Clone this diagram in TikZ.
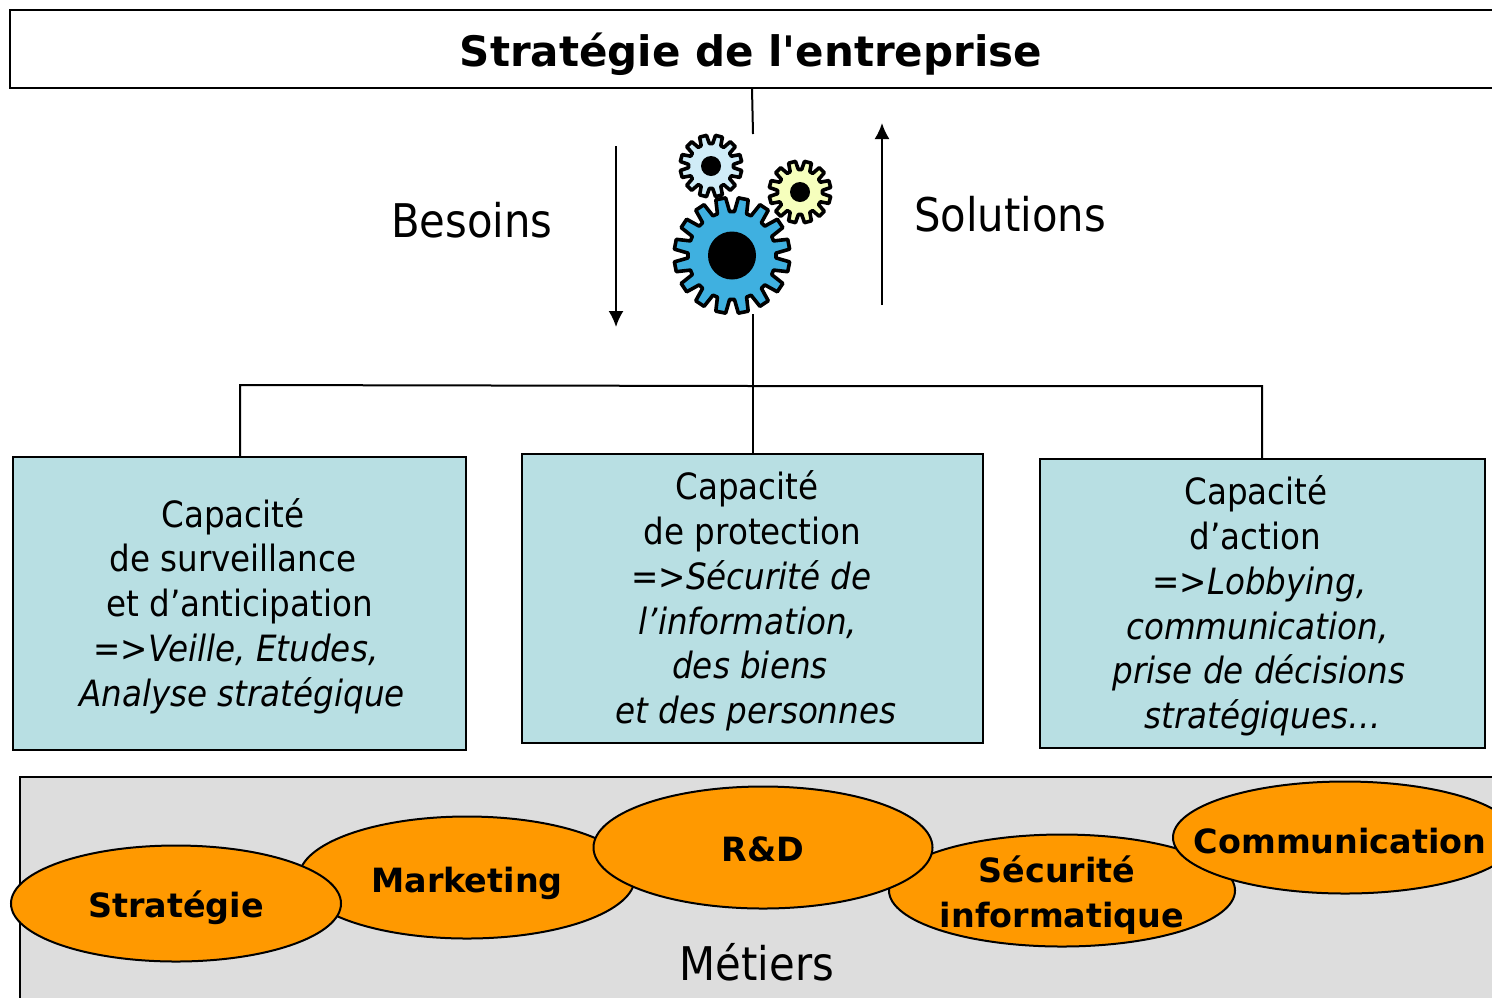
\documentclass[tikz,border=0pt]{standalone}
\usepackage{fontspec}
\setmainfont{DejaVu Sans Condensed}
\newfontfamily\boldfont{DejaVu Sans Bold}
\usetikzlibrary{arrows.meta,shapes.geometric}
\definecolor{boxblue}{HTML}{B8DFE3}
\definecolor{metiergray}{HTML}{DDDDDD}
\definecolor{metierorange}{HTML}{FF9900}
\definecolor{gearblue}{HTML}{3FB0E0}
\definecolor{gearsky}{HTML}{D0ECF7}
\definecolor{gearyellow}{HTML}{F6FFBD}
\tikzset{
    capbox/.style={draw=black, line width=1pt, fill=boxblue, anchor=north west, inner sep=0pt, align=center, font=\fontsize{18.1}{22.4}\selectfont},
    metier/.style={ellipse, draw=black, line width=1pt, fill=metierorange, inner sep=0pt},
    metierlabel/.style={align=center, font=\boldfont\fontsize{16.7}{22.4}\selectfont},
    biglabel/.style={font=\fontsize{23.2}{28}\selectfont},
    link/.style={line width=1pt},
    flow/.style={line width=1pt, -{Latex[length=8pt,width=7.5pt]}},
}
% moves one centred line sideways, in pixels of the picture
\newcommand{\lineshift}[1]{\hspace*{#1pt}}
\newcommand{\firstline}{\rule{0pt}{17pt}}
% center x, center y, teeth, outer radius, inner radius, hub radius, colour
\newcommand{\gearshape}[7]{
    \begin{scope}[shift={(#1,#2)}]
        \pgfmathsetmacro{\gearstep}{360/#3}
        \draw[line width=1.8pt, line join=round, fill=#7] (0:#5)
            \foreach \i in {1,...,#3} {
                -- ({(\i-1)*\gearstep+0.14*\gearstep}:#5) -- ({(\i-1)*\gearstep+0.28*\gearstep}:#4)
                -- ({(\i-1)*\gearstep+0.72*\gearstep}:#4) -- ({(\i-1)*\gearstep+0.86*\gearstep}:#5)
                -- ({\i*\gearstep}:#5)
            } -- cycle;
        \fill[black] (0,0) circle (#6);
    \end{scope}
}
\begin{document}
\begin{tikzpicture}[x=0.5pt, y=-0.5pt]
    \useasboundingbox (0,0) rectangle (1492,997);
    \clip (0,0) rectangle (1492,997);

    % top box
    \node[draw=black, line width=1pt, minimum width=1500*0.5pt, minimum height=78*0.5pt, anchor=north west, inner sep=0pt] (strategie) at (9,9) {};
    \node[font=\boldfont\fontsize{21}{26}\selectfont] (titre) at (751,54) {Stratégie de l'entreprise};

    % gears
    \gearshape{732}{255.5}{16}{58}{44}{24}{gearblue}
    \gearshape{711}{166}{12}{31}{22.5}{10}{gearsky}
    \gearshape{800}{192}{12}{31}{22.5}{10}{gearyellow}

    \coordinate (hautA) at (752,89);
    \coordinate (hautB) at (753,134);
    \coordinate (bas) at (753,314);
    \coordinate (noeud) at (753,386);
    \draw[link] (hautA) -- (hautB);

    % arrows
    \coordinate (besoinA) at (616,146);
    \coordinate (besoinB) at (616,327);
    \coordinate (solutionA) at (882,305);
    \coordinate (solutionB) at (882,123);
    \draw[flow] (besoinA) -- (besoinB);
    \draw[flow] (solutionA) -- (solutionB);
    \node[biglabel] (besoins) at (472,220) {Besoins};
    \node[biglabel] (solutions) at (1010,214) {Solutions};

    % three boxes
    \node[capbox, minimum width=453*0.5pt, minimum height=293*0.5pt] (surveillance) at (12,456)
        {\firstline\lineshift{-6.5}Capacité\\\lineshift{-6.5}de surveillance\\et d’anticipation\\\lineshift{-3.5}\textit{=>Veille, Etudes,}\\\lineshift{2.5}\textit{Analyse stratégique}};
    \node[capbox, minimum width=461*0.5pt, minimum height=289*0.5pt] (protection) at (521,453)
        {\firstline\lineshift{-5.5}Capacité\\de protection\\\lineshift{-1}\textit{=>Sécurité de}\\\lineshift{-4.5}\textit{l’information,}\\\lineshift{-2.5}\textit{des biens}\\\lineshift{3.5}\textit{et des personnes}};
    \node[capbox, minimum width=445*0.5pt, minimum height=289*0.5pt] (action) at (1039,458)
        {\firstline\lineshift{-6.5}Capacité\\\lineshift{-7}d’action\\\lineshift{-3}\textit{=>Lobbying,}\\\lineshift{-5}\textit{communication,}\\\lineshift{-3.5}\textit{prise de décisions}\\\textit{stratégiques…}};

    \draw[link] (bas) -- (noeud) -- (protection.north -| noeud);
    \draw[link] (surveillance.north -| 240,0) -- (240,385) -- (noeud) -- (1262,386) -- (action.north -| 1262,0);

    % metiers
    \fill[metiergray] (20,777) rectangle (1510,1010);
    \draw[link] (1510,777) -- (20,777) -- (20,1010);
    \node[biglabel] (metiers) at (757,962) {Métiers};
    \node[metier, minimum width=336*0.5pt, minimum height=122*0.5pt] (marketing) at (467,877.5) {};
    \node[metierlabel] (marketingtext) at (467,883) {Marketing};
    \node[metier, minimum width=330*0.5pt, minimum height=116*0.5pt] (strat) at (176,903.5) {};
    \node[metierlabel] (strattext) at (176,908) {Stratégie};
    \node[metier, minimum width=346*0.5pt, minimum height=112*0.5pt] (securite) at (1062,890.5) {};
    \node[metierlabel] (securitetext) at (1062,895) {\lineshift{-5}Sécurité\\informatique};
    \node[metier, minimum width=339*0.5pt, minimum height=122*0.5pt] (rd) at (763,847.5) {};
    \node[metierlabel] (rdtext) at (763,849) {R\&D};
    \node[metier, minimum width=344*0.5pt, minimum height=112*0.5pt] (communication) at (1345,837.5) {};
    \node[metierlabel] (communicationtext) at (1340,841) {Communication};
\end{tikzpicture}
\end{document}
